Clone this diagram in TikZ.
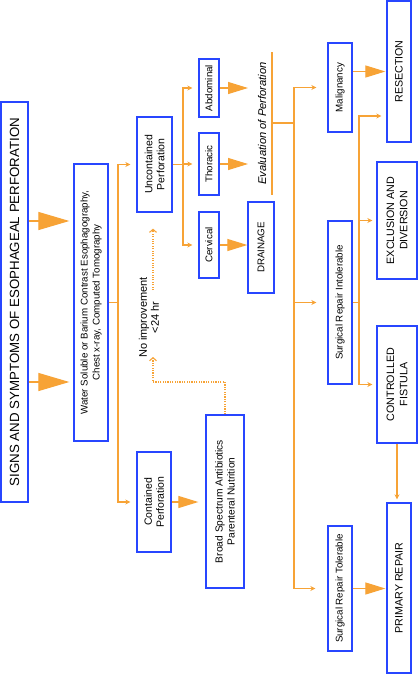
\documentclass[tikz,border=0pt]{standalone}
\usepackage{fontspec}
\setmainfont{Liberation Sans}
\usetikzlibrary{arrows.meta}
\definecolor{bl}{RGB}{40,70,255}
\definecolor{og}{RGB}{247,163,54}
\begin{document}
\begin{tikzpicture}[x=1pt,y=-1pt,
  bbox/.style={draw=bl,line width=1.3pt,rotate=90,inner sep=0pt,align=center,fill=white},
  fa/.style={font=\fontsize{9.75}{12}\selectfont},
  fb/.style={font=\fontsize{10.5}{12}\selectfont},
  fc/.style={font=\fontsize{10.2}{12}\selectfont},
  fd/.style={font=\fontsize{10.7}{13.3}\selectfont},
  ol/.style={draw=og,line width=1.2pt},
  sa/.style={-{Stealth[length=5pt,width=5pt]}},
  bigarr/.style={draw=og,line width=1.2pt,-{Triangle[length=20pt,width=12pt]}},
  biggerarr/.style={draw=og,line width=1.2pt,-{Triangle[length=31pt,width=18pt]}},
  dotl/.style={draw=og,line width=1.1pt,dash pattern=on 1.1pt off 1.3pt},
  da/.style={-{Straight Barb[length=3pt,width=7pt]}}
]
\fill[white] (0,0) rectangle (418,675);
\useasboundingbox (0,0) rectangle (418,675);

% nodes
\node[bbox,minimum width=400pt,minimum height=27pt,font=\fontsize{13.3}{16}\selectfont] (main) at (14.5,302) {SIGNS AND SYMPTOMS OF ESOPHAGEAL PERFORATION};
\node[bbox,minimum width=277pt,minimum height=34pt,fa] (water) at (91,302.5) {Water Soluble or Barium Contrast Esophagography,\\Chest x-ray, Computed Tomography};
\node[bbox,minimum width=95pt,minimum height=35pt,fb] (uncont) at (154.5,164.5) {Uncontained\\Perforation};
\node[bbox,minimum width=100pt,minimum height=34pt,fb] (cont) at (154,502) {Contained\\Perforation};
\node[bbox,minimum width=58pt,minimum height=20pt,fa] (abd) at (209,88) {Abdominal};
\node[bbox,minimum width=62pt,minimum height=20pt,fa] (thor) at (209,164) {Thoracic};
\node[bbox,minimum width=66pt,minimum height=20pt,fa] (cerv) at (209,245) {Cervical};
\node[bbox,minimum width=91pt,minimum height=26pt,fa] (drain) at (261,247.5) {DRAINAGE};
\node[bbox,minimum width=173pt,minimum height=38pt,fc] (broad) at (225,501.5) {Broad Spectrum Antibiotics\\Parenteral Nutrition};
\node[rotate=90,inner sep=0pt,font=\fontsize{11.2}{13}\selectfont\itshape] (eval) at (262,123.5) {Evaluation of Perforation};
\node[rotate=90,inner sep=0pt,align=center,font=\fontsize{11}{12}\selectfont] (noimp) at (149,317.5) {No improvement\\<24 hr};
\node[bbox,minimum width=89pt,minimum height=24pt,fa] (malig) at (340,87.5) {Malignancy};
\node[bbox,minimum width=163pt,minimum height=24pt,fa] (sri) at (340,302.5) {Surgical Repair Intolerable};
\node[bbox,minimum width=125pt,minimum height=24pt,fa] (srt) at (340,588.5) {Surgical Repair Tolerable};
\node[bbox,minimum width=141pt,minimum height=24pt,fd] (resect) at (399,71.5) {RESECTION};
\node[bbox,minimum width=117pt,minimum height=40pt,fd] (excl) at (397,220.5) {EXCLUSION AND\\DIVERSION};
\node[bbox,minimum width=117pt,minimum height=40pt,fd] (ctrl) at (397,384.5) {CONTROLLED\\FISTULA};
\node[bbox,minimum width=170pt,minimum height=24pt,fd] (prim) at (399,588) {PRIMARY REPAIR};

% coordinates
\coordinate (ya) at (0,221);
\coordinate (yb) at (0,382);
\coordinate (j1) at (118,302.5);
\coordinate (j2) at (183,164.5);
\coordinate (ex) at (248,0);
\coordinate (bt) at (272,52);
\coordinate (bb) at (272,195);
\coordinate (bm) at (272,123);
\coordinate (j3) at (294,123);
\coordinate (j4) at (359,302.5);
\coordinate (yr) at (0,116);
\coordinate (dA) at (153,382);
\coordinate (dB) at (153,357);
\coordinate (dC) at (153,290);

% connectors
\draw[biggerarr,shorten >=4pt] (main.south |- ya) -- (water.north |- ya);
\draw[biggerarr,shorten >=4pt] (main.south |- yb) -- (water.north |- yb);

\draw[ol] (water.south) -- (j1);
\draw[ol,sa,shorten >=6pt] (j1) |- (uncont.north);
\draw[ol,sa,shorten >=6pt] (j1) |- (cont.north);

\draw[ol] (uncont.south) -- (j2);
\draw[ol,sa,shorten >=6pt] (j2) |- (abd.north);
\draw[ol,sa,shorten >=6pt] (j2) |- (thor.north);
\draw[ol,sa,shorten >=6pt] (j2) |- (cerv.north);

\draw[bigarr] (abd.south) -- (abd.south -| ex);
\draw[bigarr] (thor.south) -- (thor.south -| ex);
\draw[bigarr] (cerv.south) -- (cerv.south -| drain.north);

\draw[ol] (bt) -- (bb);
\draw[ol] (bm) -- (j3);
\draw[ol,sa,shorten >=11pt] (j3) |- (malig.north);
\draw[ol,sa,shorten >=11pt] (j3) |- (sri.north);
\draw[ol,sa,shorten >=12pt] (j3) |- (srt.north);

\draw[bigarr,shorten >=1pt] (malig.south |- resect.north) -- (resect.north);
\draw[ol] (sri.south) -- (j4);
\draw[ol,sa,shorten >=5pt] (j4) |- (resect.north |- yr);
\draw[ol,sa,shorten >=4pt] (j4) |- (excl.north);
\draw[ol,sa,shorten >=4pt] (j4) |- (ctrl.north);
\draw[ol,sa,shorten >=3pt] (ctrl.west) -- (ctrl.west |- prim.east);
\draw[bigarr,shorten >=1pt] (srt.south) -- (srt.south -| prim.north);
\draw[bigarr,shorten >=7pt] (cont.south) -- (cont.south -| broad.north);

\draw[dotl,da] (broad.east) |- (dA) -- (dB);
\draw[dotl,da,shorten >=16pt] (dC) -- (dC |- uncont.west);
\end{tikzpicture}
\end{document}
